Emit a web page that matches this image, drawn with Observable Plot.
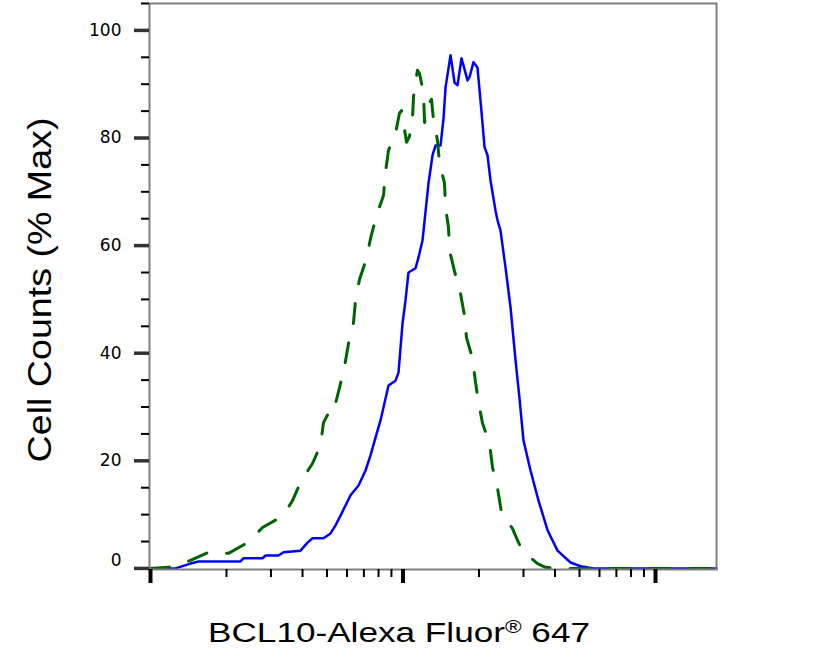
<!DOCTYPE html>
<html>
<head>
<meta charset="utf-8">
<script src="https://cdn.jsdelivr.net/npm/d3@7"></script>
<script src="https://cdn.jsdelivr.net/npm/@observablehq/plot@0.6"></script>
<style>
  body { margin: 0; background: #ffffff; }
  #chart { width: 823px; height: 665px; }
</style>
</head>
<body>
<div id="chart"></div>
<script>
// Stained sample (blue, solid)
const blueX = [99.1, 125.6, 144.0, 155.0, 227.2, 233.6, 277.7, 285.4, 321.3, 336.3, 392.7, 418.6, 438.1, 484.3, 516.4, 540.4, 565.6, 619.7, 666.6, 710.5, 743.6, 778.3, 814.6, 876.2, 933.9, 959.8, 995.5, 1023, 1051, 1121, 1152, 1195, 1262, 1309, 1345, 1408, 1447, 1474, 1543, 1600, 1644, 1705, 1736, 1801, 1834, 1902, 1972, 2027, 2065, 2103, 2161, 2221, 2325, 2368, 2433, 2547, 2666, 2790, 2893, 3000, 3199, 3441, 3736, 4092, 4607, 5047, 5683, 7268, 17440];
const blueY = [0, 0, 0.9, 1.3, 1.3, 1.9, 1.9, 2.4, 2.4, 3.0, 3.3, 4.8, 5.6, 5.6, 6.5, 8.0, 9.8, 13.6, 15.4, 18.2, 21.0, 24.3, 27.5, 34.0, 34.9, 36.4, 45.5, 49.8, 55.0, 55.8, 57.8, 61.0, 71.6, 76.8, 78.6, 78.6, 83.6, 89.4, 95.4, 90.3, 89.8, 94.8, 93.5, 90.7, 91.3, 94.1, 93.1, 87.0, 82.7, 78.3, 76.8, 72.1, 66.5, 64.7, 62.8, 55.9, 48.5, 38.7, 31.6, 23.8, 18.2, 12.6, 7.1, 3.3, 1.1, 0.4, 0, 0, 0];

// Control (green, dashed)
const greenX = [99.1, 117.8, 129.1, 144.0, 169.7, 185.9, 203.6, 242.2, 260.5, 277.7, 327.3, 345.7, 365.1, 392.7, 414.8, 438.1, 471.3, 484.3, 525.9, 535.6, 560.5, 586.7, 608.4, 636.8, 648.5, 672.6, 717.0, 743.6, 785.2, 837.0, 852.4, 876.2, 933.9, 968.5, 986.5, 1033, 1061, 1090, 1101, 1121, 1141, 1163, 1206, 1217, 1239, 1274, 1297, 1321, 1369, 1395, 1460, 1474, 1514, 1529, 1600, 1689, 1752, 1784, 1885, 1937, 1991, 2065, 2201, 2262, 2368, 2455, 2715, 2842, 2974, 3411, 3668, 4092, 17440];
const greenY = [0, 0.2, 0.7, 1.5, 3.0, 3.0, 2.8, 4.8, 6.3, 7.6, 9.5, 10.8, 12.6, 16.0, 17.8, 19.5, 22.9, 27.1, 30.3, 29.9, 33.6, 37.5, 41.8, 45.7, 49.8, 53.7, 57.6, 61.3, 65.6, 69.3, 73.6, 77.7, 80.9, 84.6, 85.1, 79.2, 80.3, 83.6, 87.7, 90.3, 92.6, 92.0, 88.3, 82.9, 84.8, 86.6, 87.2, 83.3, 79.6, 75.3, 71.6, 67.1, 63.4, 59.1, 55.2, 51.1, 47.0, 42.9, 39.0, 34.6, 30.9, 27.0, 23.2, 18.8, 14.9, 10.4, 7.4, 5.2, 3.3, 0.9, 0.2, 0, 0];

const yLabelTicks = [20, 40, 60, 80, 100];
const yZeroTick = [0];
const yMinorTicks = [5, 10, 15, 25, 30, 35, 45, 50, 55, 65, 70, 75, 85, 90, 95, 105];
const xMajorTicks = [100, 1000, 10000];
const xMinorTicks = [200, 300, 400, 500, 600, 700, 800, 900, 2000, 3000, 4000, 5000, 6000, 7000, 8000, 9000];

const yTitle = "Cell Counts (% Max)";
const xTitleMain = "BCL10-Alexa Fluor";
const xTitleMark = "\u00AE";
const xTitleEnd = " 647";

const blue = blueX.map((x, i) => ({x, y: blueY[i]}));
const green = greenX.map((x, i) => ({x, y: greenY[i]}));

const plot = Plot.plot({
  width: 823,
  height: 665,
  marginLeft: 149,
  marginRight: 107,
  marginTop: 3,
  marginBottom: 96,
  style: {fontFamily: "DejaVu Sans, sans-serif", fontSize: "17px", background: "#ffffff", color: "#000000"},
  x: {type: "log", domain: [99.1, 17440]},
  y: {domain: [-0.2, 105]},
  marks: [
    Plot.line(blue, {x: "x", y: "y", stroke: "#0000ff", strokeWidth: 2.5, strokeLinejoin: "round"}),
    Plot.line(green, {x: "x", y: "y", stroke: "#006400", strokeWidth: 3, strokeDasharray: "20,20"}),
    Plot.frame({stroke: "#808080", strokeWidth: 2}),
    Plot.axisY({ticks: yMinorTicks.filter(d => d <= 105), tickSize: 8, strokeWidth: 2, stroke: "#000000", fill: "none", label: null}),
    Plot.axisY({ticks: yLabelTicks, tickSize: 15, tickPadding: 13, strokeWidth: 3.5, stroke: "#333333", fill: "#000000", label: null}),
    Plot.axisY({ticks: yZeroTick, tickSize: 15, strokeWidth: 3.5, stroke: "#333333", fill: "none", label: null}),
    Plot.axisY({ticks: yZeroTick, tickSize: 0, tickPadding: 28, dy: -8, stroke: "none", fill: "#000000", label: null}),
    Plot.axisX({ticks: xMinorTicks, tickSize: 8, strokeWidth: 2, stroke: "#000000", fill: "none", label: null}),
    Plot.axisX({ticks: xMajorTicks, tickSize: 14, strokeWidth: 4, stroke: "#000000", fill: "none", label: null})
  ]
});

document.getElementById("chart").appendChild(plot);

const svg = d3.select(plot);
// x axis title
const xt = svg.append("text")
  .attr("transform", "translate(399,642) scale(1.256,1)")
  .attr("text-anchor", "middle")
  .attr("font-family", "Liberation Sans, Arial, sans-serif")
  .attr("font-size", 28)
  .attr("fill", "#000000");
xt.append("tspan").text(xTitleMain);
xt.append("tspan").attr("font-size", 18).attr("dy", -9).text(xTitleMark);
xt.append("tspan").attr("dy", 9).text(xTitleEnd);

// y axis title
svg.append("text")
  .attr("transform", "translate(51,290) rotate(-90) scale(1.14,1)")
  .attr("text-anchor", "middle")
  .attr("font-family", "Liberation Sans, Arial, sans-serif")
  .attr("font-size", 33)
  .attr("fill", "#000000")
  .text(yTitle);
</script>
</body>
</html>
